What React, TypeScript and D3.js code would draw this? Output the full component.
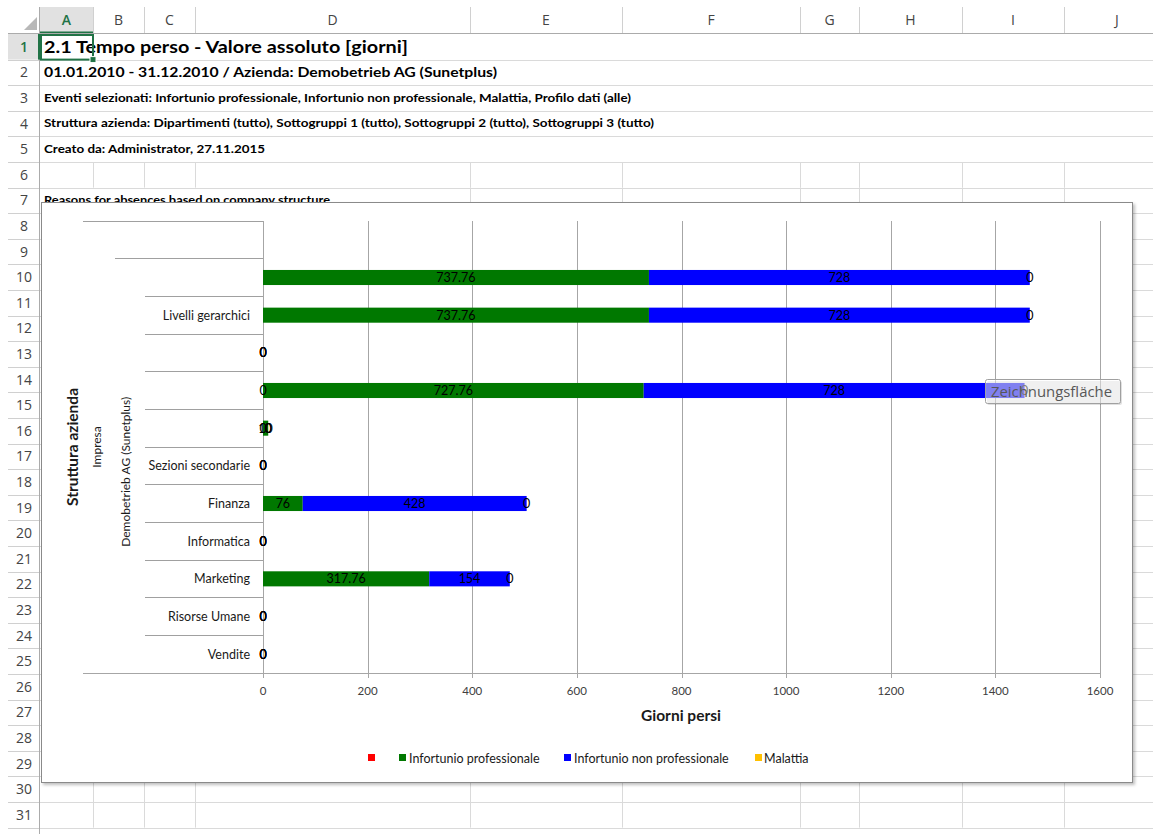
import React from "react";
import * as d3 from "d3";

// ---------- sheet content ----------
const columnLetters = ["A", "B", "C", "D", "E", "F", "G", "H", "I", "J"];
const sheetTexts = [
  "2.1 Tempo perso - Valore assoluto [giorni]",
  "01.01.2010 - 31.12.2010 / Azienda: Demobetrieb AG (Sunetplus)",
  "Eventi selezionati: Infortunio professionale, Infortunio non professionale, Malattia, Profilo dati (alle)",
  "Struttura azienda: Dipartimenti (tutto), Sottogruppi 1 (tutto), Sottogruppi 2 (tutto), Sottogruppi 3 (tutto)",
  "Creato da: Administrator, 27.11.2015",
  "",
  "Reasons for absences based on company structure",
];

// ---------- chart data ----------
const leafLabels = [
  "", "", "Livelli gerarchici", "", "", "", "Sezioni secondarie",
  "Finanza", "Informatica", "Marketing", "Risorse Umane", "Vendite",
];
const level1Groups = [
  { label: "", from: 0, to: 0 },
  { label: "Demobetrieb AG (Sunetplus)", from: 1, to: 11 },
];
const level0Groups = [{ label: "Impresa", from: 0, to: 11 }];

const seriesNames = ["", "Infortunio professionale", "Infortunio non professionale", "Malattia"];
const seriesColors = ["#ff0000", "#007800", "#0000ff", "#ffc000"];
const redValues: (number | null)[] = [null, null, null, 0, 0, 0, 0, null, 0, null, 0, 0];
const greenValues: (number | null)[] = [null, 737.76, 737.76, 0, 727.76, 10, 0, 76, 0, 317.76, 0, 0];
const blueValues: (number | null)[] = [null, 728, 728, 0, 728, 0, 0, 428, 0, 154, 0, 0];
const yellowValues: (number | null)[] = [null, 0, 0, 0, 0, 0, 0, 0, 0, 0, 0, 0];
const xTicks = [0, 200, 400, 600, 800, 1000, 1200, 1400, 1600];
const xAxisTitle = "Giorni persi";
const yAxisTitle = "Struttura azienda";

const allSeries = [redValues, greenValues, blueValues, yellowValues];

const FONT = "Lato, 'Open Sans', sans-serif";
const HFONT = "'Open Sans', 'Noto Sans', sans-serif";

export default function App() {
  const W = 1153;
  const H = 834;
  const colEdges = [40, 93, 144, 195, 470, 622, 800, 859, 962, 1064, 1170];
  const rowTop0 = 34;
  const rowH = 25.6;
  const rowTop = (r: number) => rowTop0 + (r - 1) * rowH;
  const gridColor = "#dadada";

  const plotTop = 221;
  const plotBottom = 673;
  const x = d3.scaleLinear().domain([0, 1600]).range([263, 1100]);
  const y = d3.scaleBand<number>().domain(d3.range(leafLabels.length)).range([plotTop, plotBottom]);
  const barH = y.bandwidth() * 0.4;

  // stacked segments
  const segments: any[] = [];
  const labels: any[] = [];
  leafLabels.forEach((_, i) => {
    let acc = 0;
    allSeries.forEach((vals, s) => {
      const v = vals[i];
      if (v === null || v === undefined) return;
      const x0 = x(acc);
      const x1 = x(acc + v);
      segments.push({ i, s, x0, x1 });
      labels.push({ i, s, cx: (x0 + x1) / 2, text: String(v) });
      acc += v;
    });
  });

  const cy = (i: number) => (y(i) as number) + y.bandwidth() / 2;
  const boundaryY = (k: number) => (k === 0 ? plotTop : k < leafLabels.length ? (y(k) as number) : plotBottom);
  const level0Bounds = new Set<number>();
  level0Groups.forEach((g) => { level0Bounds.add(g.from); level0Bounds.add(g.to + 1); });
  const level1Bounds = new Set<number>();
  level1Groups.forEach((g) => { level1Bounds.add(g.from); level1Bounds.add(g.to + 1); });

  const groupCenter = (g: { from: number; to: number }) => (boundaryY(g.from) + boundaryY(g.to + 1)) / 2;

  const rows = d3.range(1, 32);
  const textRowStyles = [
    { size: 17, width: 364 },
    { size: 13.5, width: 453 },
    { size: 10.5, width: 587 },
    { size: 10.5, width: 610 },
    { size: 10.5, width: 221 },
    { size: 10.5, width: 0 },
    { size: 10.5, width: 286 },
  ];

  const legendPos = [
    { sq: 368, tx: 0 },
    { sq: 399, tx: 409 },
    { sq: 564, tx: 574 },
    { sq: 755, tx: 764 },
  ];

  const LBL = 12.5;
  const sepLines = d3.range(leafLabels.length + 1).map((k) => ({
    x0: level0Bounds.has(k) ? 83 : level1Bounds.has(k) ? 115 : 145,
    yy: Math.floor(boundaryY(k)),
  }));

  return (
    <svg
      width={W}
      height={H}
      style={{ position: "absolute", left: 0, top: 0, background: "#fff" }}
      xmlns="http://www.w3.org/2000/svg"
    >
      <defs>
        <filter id="shadow" x="-5%" y="-5%" width="110%" height="110%">
          <feDropShadow dx="2" dy="2" stdDeviation="1.5" floodColor="#000" floodOpacity="0.25" />
        </filter>
        <clipPath id="sheetClip">
          <rect x={40} y={34} width={W - 40} height={H - 34} />
        </clipPath>
      </defs>
      <rect x={0} y={0} width={W} height={H} fill="#fff" />

      {/* column header */}
      <rect x={colEdges[0]} y={7} width={colEdges[1] - colEdges[0]} height={27} fill="#e1e1e1" />
      <path d="M24,30 L37,30 L37,17 Z" fill="#b8b8b8" />
      {columnLetters.map((c, k) => (
        <g key={c}>
          <rect x={colEdges[k + 1]} y={7} width={1} height={26} fill="#d0d0d0" />
          <text
            x={(colEdges[k] + colEdges[k + 1]) / 2}
            y={25}
            textAnchor="middle"
            fontFamily={HFONT}
            fontSize={14}
            fill={k === 0 ? "#217346" : "#444"}
            fontWeight={k === 0 ? 600 : 400}
          >
            {c}
          </text>
        </g>
      ))}
      <rect x={colEdges[0]} y={31.5} width={colEdges[1] - colEdges[0]} height={2} fill="#217346" />
      <rect x={8} y={33} width={W - 8} height={1} fill="#ababab" />

      {/* row header */}
      <rect x={8} y={rowTop(1)} width={32} height={rowH} fill="#e1e1e1" />
      {rows.map((r) => (
        <g key={r}>
          <rect x={8} y={Math.round(rowTop(r + 1))} width={32} height={1} fill="#d0d0d0" />
          <text
            x={24}
            y={rowTop(r) + rowH / 2 + 5}
            textAnchor="middle"
            fontFamily={HFONT}
            fontSize={14}
            fill={r === 1 ? "#217346" : "#444"}
            fontWeight={r === 1 ? 600 : 400}
          >
            {r}
          </text>
        </g>
      ))}
      <rect x={39} y={7} width={1} height={H - 7} fill="#ababab" />
      <rect x={38} y={rowTop(1)} width={2} height={rowH} fill="#217346" />

      {/* grid */}
      <g clipPath="url(#sheetClip)">
        {rows.map((r) => (
          <rect key={"h" + r} x={40} y={Math.round(rowTop(r + 1))} width={W - 40} height={1} fill={gridColor} />
        ))}
        {rows.filter((r) => r >= 6).map((r) =>
          colEdges.slice(1).map((cx, k) => {
            if (r === 7 && cx < 340) return null;
            return (
              <rect key={"v" + r + "-" + k} x={cx} y={rowTop(r)} width={1} height={rowH} fill={gridColor} />
            );
          })
        )}
        {sheetTexts.map((t, k) =>
          t ? (
            <text
              key={"t" + k}
              x={44}
              y={rowTop(k + 1) + rowH / 2 + textRowStyles[k].size * 0.36}
              fontFamily={FONT}
              fontWeight={700}
              fontSize={textRowStyles[k].size}
              fill="#000"
              textLength={textRowStyles[k].width}
              lengthAdjust="spacingAndGlyphs"
            >
              {t}
            </text>
          ) : null
        )}
      </g>

      {/* A1 selection */}
      <rect x={41} y={rowTop(1) + 1} width={52} height={rowH - 1} fill="none" stroke="#217346" strokeWidth={2} />
      <rect x={90} y={rowTop(2) - 3} width={6} height={6} fill="#217346" stroke="#fff" strokeWidth={1} />

      {/* chart area */}
      <rect x={41.5} y={202.5} width={1091} height={580} fill="#fff" stroke="#8a8a8a" filter="url(#shadow)" />
      <rect x={41.5} y={202.5} width={1091} height={580} fill="#fff" stroke="#8a8a8a" />

      {/* gridlines */}
      {xTicks.map((t) => (
        <g key={"g" + t}>
          <rect x={Math.round(x(t))} y={plotTop} width={1} height={678 - plotTop} fill="#a6a6a6" />
          <text x={x(t)} y={695} textAnchor="middle" fontFamily={FONT} fontSize={11.5} fill="#404040">
            {t}
          </text>
        </g>
      ))}

      {/* category separators */}
      {sepLines.map((s, k) => (
        <rect key={"s" + k} x={s.x0} y={s.yy} width={264 - s.x0} height={1} fill="#a0a0a0" />
      ))}
      <rect x={83} y={plotBottom} width={1100 - 83} height={1} fill="#a6a6a6" />
      <rect x={263} y={plotTop} width={1} height={plotBottom - plotTop} fill="#a6a6a6" />

      {/* leaf labels */}
      {leafLabels.map((l, i) =>
        l ? (
          <text key={"l" + i} x={250} y={cy(i) + 4.5} textAnchor="end" fontFamily={FONT} fontSize={LBL} fill="#1a1a1a">
            {l}
          </text>
        ) : null
      )}
      {level1Groups.map((g, k) =>
        g.label ? (
          <text
            key={"l1" + k}
            transform={`translate(130,${groupCenter(g) + 6}) rotate(-90)`}
            textAnchor="middle"
            fontFamily={FONT}
            fontSize={12}
            fill="#1a1a1a"
          >
            {g.label}
          </text>
        ) : null
      )}
      {level0Groups.map((g, k) => (
        <text
          key={"l0" + k}
          transform={`translate(101,${groupCenter(g)}) rotate(-90)`}
          textAnchor="middle"
          fontFamily={FONT}
          fontSize={12}
          fill="#1a1a1a"
        >
          {g.label}
        </text>
      ))}
      <text
        transform={`translate(78,${(plotTop + plotBottom) / 2}) rotate(-90)`}
        textAnchor="middle"
        fontFamily={FONT}
        fontSize={15.5}
        fontWeight={700}
        fill="#1a1a1a"
      >
        {yAxisTitle}
      </text>

      {/* bars */}
      {segments.map((s, k) =>
        s.x1 - s.x0 > 0 ? (
          <rect
            key={"b" + k}
            x={s.x0}
            y={cy(s.i) - barH / 2}
            width={s.x1 - s.x0}
            height={barH}
            fill={seriesColors[s.s]}
          />
        ) : null
      )}
      {labels.map((l, k) => (
        <text
          key={"bl" + k}
          x={l.cx}
          y={cy(l.i) + 4.5}
          textAnchor="middle"
          fontFamily={FONT}
          fontSize={LBL}
          fill="#000"
        >
          {l.text}
        </text>
      ))}

      {/* x title */}
      <text x={681} y={721} textAnchor="middle" fontFamily={FONT} fontSize={15.5} fontWeight={700} fill="#1a1a1a">
        {xAxisTitle}
      </text>

      {/* legend */}
      {seriesNames.map((n, k) => (
        <g key={"lg" + k}>
          <rect x={legendPos[k].sq} y={754} width={7} height={7} fill={seriesColors[k]} />
          {n ? (
            <text x={legendPos[k].tx} y={762.5} fontFamily={FONT} fontSize={LBL} fill="#1a1a1a">
              {n}
            </text>
          ) : null}
        </g>
      ))}

      {/* tooltip */}
      <g>
        <rect x={987} y={381} width={135} height={24} fill="#000" opacity={0.12} rx={2} />
        <rect x={985.5} y={379.5} width={135} height={24} fill="#fff" fillOpacity={0.5} stroke="#a0a0a0" rx={2} />
        <text x={991} y={397} fontFamily={HFONT} fontSize={14} fill="#575757" textLength={121} lengthAdjust="spacingAndGlyphs">
          Zeichnungsfläche
        </text>
      </g>
    </svg>
  );
}
